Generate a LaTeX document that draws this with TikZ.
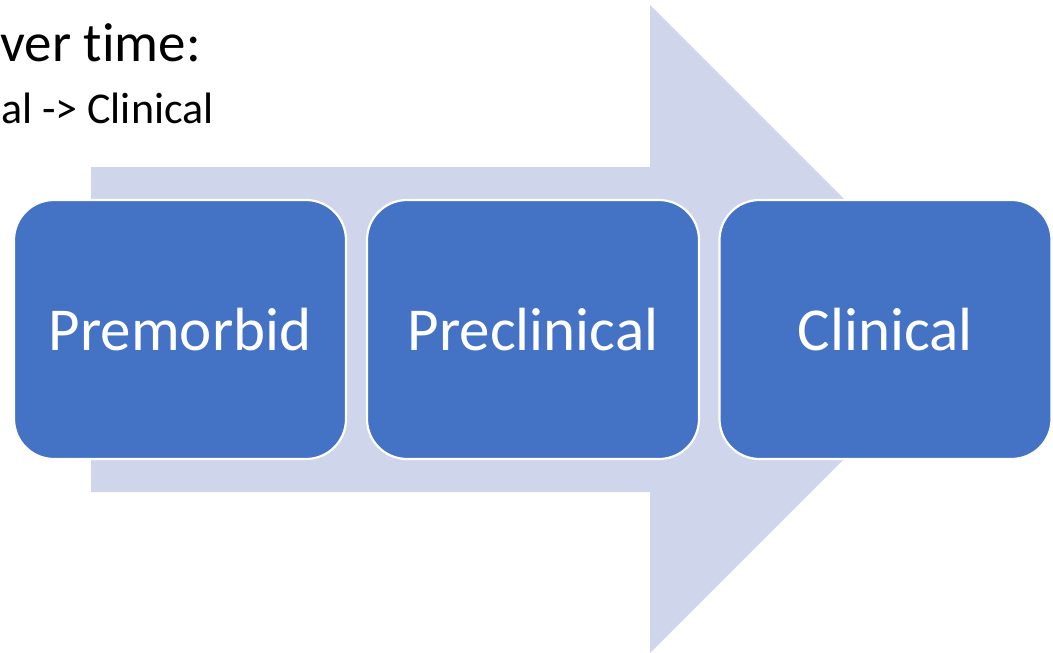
\documentclass[tikz,border=0pt]{standalone}
\usepackage{fontspec}
\setmainfont[Ligatures=NoCommon]{Carlito}
\definecolor{arrowfill}{HTML}{CFD5EA}
\definecolor{boxfill}{HTML}{4472C4}
\begin{document}
\begin{tikzpicture}[x=1pt,y=-1pt,
  stagebox/.style={draw=white, line width=2.2pt, fill=boxfill, rounded corners=40pt,
    minimum width=332pt, minimum height=259pt, inner sep=0pt, text=white,
    font=\fontsize{61}{70}\selectfont},
  headline/.style={anchor=base east, inner sep=0pt, text=black}]
\useasboundingbox (0,0) rectangle (1053,653);
\clip (0,0) rectangle (1053,653);
% big background arrow
\fill[arrowfill] (91,167) -- (650,167) -- (650,5) -- (974,329) -- (650,653) -- (650,492) -- (91,492) -- cycle;
% header text (cut at left edge, as in the reference)
\node[headline, font=\fontsize{55}{60}\selectfont] (t1) at (201,61) {Changes over time:};
\node[headline, font=\fontsize{44}{50}\selectfont] (t2) at (214,123) {Premorbid -> Preclinical -> Clinical};
% stages
\node[stagebox] (s1) at (180,329.5) {Premorbid};
\node[stagebox] (s2) at (533,329.5) {Preclinical};
\node[stagebox] (s3) at (885.5,329.5) {Clinical};
\end{tikzpicture}
\end{document}
